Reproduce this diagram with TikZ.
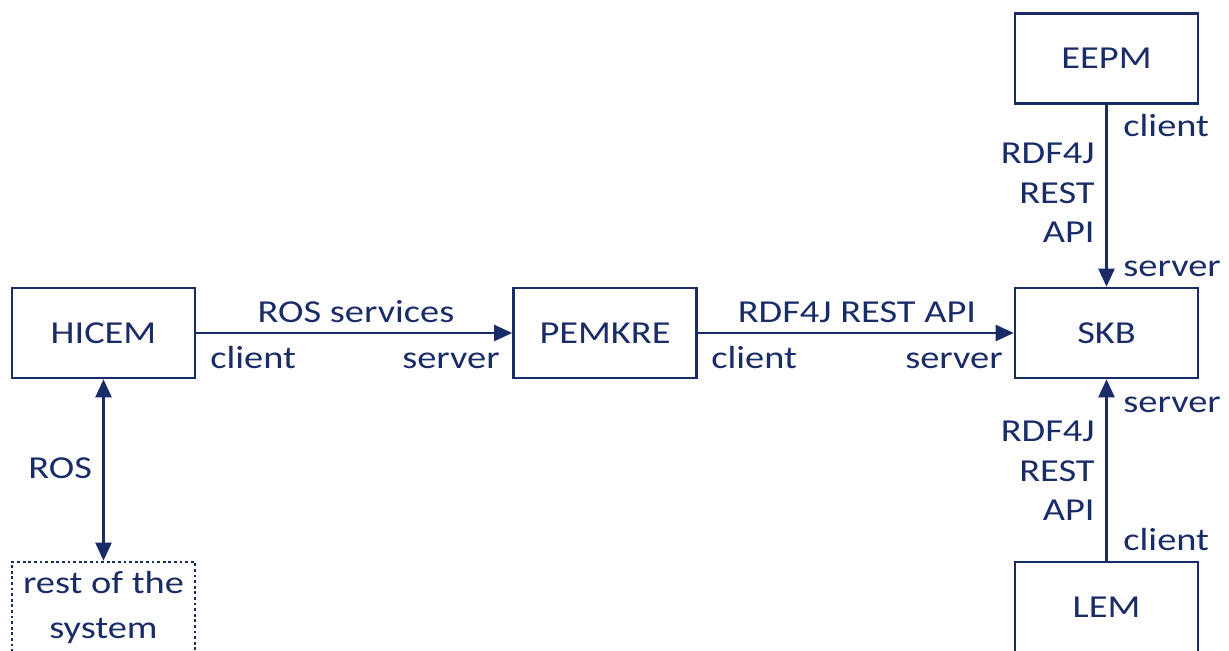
\documentclass[tikz,border=0pt]{standalone}
\usepackage{fontspec}
\setmainfont{Carlito}[FakeStretch=1.2]
\usetikzlibrary{arrows.meta}
\definecolor{navy}{HTML}{1A2C68}
\begin{document}
\begin{tikzpicture}[x=0.5pt,y=-0.5pt,
  every node/.style={text=navy,font=\fontsize{16pt}{19.75pt}\selectfont},
  block/.style={draw=navy,line width=1.3pt,minimum width=91.5pt,minimum height=45pt,inner sep=0pt,align=center},
  restbox/.style={block,dash pattern=on 1.4pt off 1.4pt,font=\fontsize{16pt}{22.5pt}\selectfont},
  link/.style={draw=navy,line width=1.15pt,-{Triangle[length=9pt,width=8pt]}},
  both/.style={link,{Triangle[length=9pt,width=8pt]}-{Triangle[length=9pt,width=8pt]}},
  lbl/.style={inner sep=0pt}]
\useasboundingbox (0,0) rectangle (1229,651);

% components
\node[block] (hicem)  at (103.5,333) {HICEM};
\node[block] (pemkre) at (605,333)   {PEMKRE};
\node[block] (skb)    at (1106.5,333) {SKB};
\node[block] (eepm)   at (1106.5,58.5) {EEPM};
\node[block] (lem)    at (1106.5,607) {LEM};
\node[restbox] (rest) at (103.5,607) {rest of the\\system};

% connections
\draw[link] (hicem) -- (pemkre);
\draw[link] (pemkre) -- (skb);
\draw[link] (eepm) -- (skb);
\draw[link] (lem) -- (skb);
\draw[both] (hicem) -- (rest);

% HICEM -> PEMKRE
\node[lbl,anchor=base] at (356,323) {ROS services};
\node[lbl,anchor=base west] at (210,369) {client};
\node[lbl,anchor=base east] at (500,369) {server};

% PEMKRE -> SKB
\node[lbl,anchor=base] at (857,323) {RDF4J REST API};
\node[lbl,anchor=base west] at (711,369) {client};
\node[lbl,anchor=base east] at (1003,369) {server};

% EEPM -> SKB
\node[lbl,anchor=base west] at (1123,137) {client};
\node[lbl,anchor=east,align=right] at (1095,193) {RDF4J\\REST\\API};
\node[lbl,anchor=base west] at (1123,277) {server};

% LEM -> SKB
\node[lbl,anchor=base west] at (1123,413) {server};
\node[lbl,anchor=east,align=right] at (1095,471) {RDF4J\\REST\\API};
\node[lbl,anchor=base west] at (1123,550) {client};

% HICEM <-> rest of the system
\node[lbl,anchor=base west] at (28,478) {ROS};
\end{tikzpicture}
\end{document}
